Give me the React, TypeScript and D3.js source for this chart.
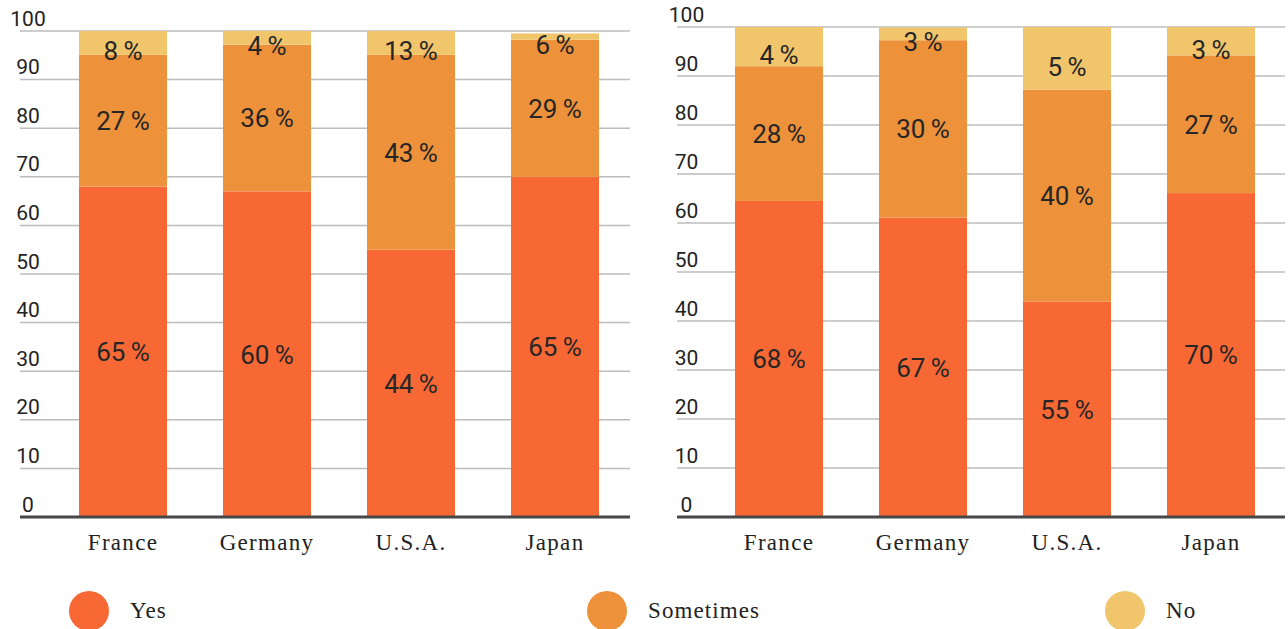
import React from "react";
import * as d3 from "d3";

const categories = ["France", "Germany", "U.S.A."," Japan".trim()];
const seriesNames = ["Yes", "Sometimes", "No"];
const seriesColors = ["#f76835", "#ed923b", "#f1c56b"];

// Left panel: drawn segment values
const leftYes = [68, 67, 55, 70];
const leftSometimes = [27.1, 30.2, 40.1, 28.2];
const leftNo = [4.9, 2.8, 4.9, 1.3];
// Left panel: printed labels
const leftYesLabels = ["65", "60", "44", "65"];
const leftSometimesLabels = ["27", "36", "43", "29"];
const leftNoLabels = ["8", "4", "13", "6"];

// Right panel: drawn segment values
const rightYes = [64.5, 61.1, 44, 66.1];
const rightSometimes = [27.5, 36.2, 43.2, 28.1];
const rightNo = [8, 2.6, 12.8, 5.8];
// Right panel: printed labels
const rightYesLabels = ["68", "67", "55", "70"];
const rightSometimesLabels = ["28", "30", "40", "27"];
const rightNoLabels = ["4", "3", "5", "3"];

const yTicks = [0, 10, 20, 30, 40, 50, 60, 70, 80, 90, 100];

const NUM_FONT = "Roboto, 'Open Sans', sans-serif";
const SERIF_FONT = "'Liberation Serif', 'DejaVu Serif', serif";

type PanelProps = {
  x0: number;
  x1: number;
  bandRange: [number, number];
  yRange: [number, number];
  tickX: number;
  values: number[][];
  labels: string[][];
};

function Panel({ x0, x1, bandRange, yRange, tickX, values, labels }: PanelProps) {
  const x = d3
    .scaleBand<string>()
    .domain(categories)
    .range(bandRange)
    .paddingInner(0.389)
    .paddingOuter(0.1945);
  const y = d3.scaleLinear().domain([0, 100]).range(yRange);

  const rows = categories.map((c, i) => {
    const obj: any = { cat: c };
    seriesNames.forEach((s, k) => (obj[s] = values[k][i]));
    return obj;
  });
  const stacked = d3.stack<any>().keys(seriesNames)(rows);

  return (
    <g>
      {yTicks
        .filter((t) => t > 0)
        .map((t) => (
          <line
            key={"g" + t}
            x1={x0}
            x2={x1}
            y1={y(t)}
            y2={y(t)}
            stroke="#bcbcbc"
            strokeWidth={1.5}
          />
        ))}
      {yTicks.map((t) => (
        <text
          key={"t" + t}
          x={tickX}
          y={y(t) - 5.5}
          textAnchor="middle"
          fontFamily={NUM_FONT}
          fontSize={21}
          fill="#222"
        >
          {t}
        </text>
      ))}
      {stacked.map((layer, k) =>
        layer.map((d, i) => (
          <rect
            key={seriesNames[k] + i}
            x={x(categories[i])}
            width={x.bandwidth()}
            y={y(d[1])}
            height={y(d[0]) - y(d[1])}
            fill={seriesColors[k]}
          />
        ))
      )}
      {stacked.map((layer, k) =>
        layer.map((d, i) => {
          const mid = y((d[0] + d[1]) / 2) + (k === 2 ? 8 : 0);
          return (
            <text
              key={"l" + seriesNames[k] + i}
              x={(x(categories[i]) as number) + x.bandwidth() / 2}
              y={mid}
              dy="0.36em"
              textAnchor="middle"
              fontFamily={NUM_FONT}
              fontSize={26}
              fill="#262626"
            >
              {labels[k][i] + "\u2009%"}
            </text>
          );
        })
      )}
      <line x1={x0} x2={x1} y1={y(0)} y2={y(0)} stroke="#474747" strokeWidth={3} />
      {categories.map((c) => (
        <text
          key={"x" + c}
          x={(x(c) as number) + x.bandwidth() / 2}
          y={550}
          textAnchor="middle"
          fontFamily={SERIF_FONT}
          fontSize={23}
          letterSpacing={1.3}
          fill="#222"
        >
          {c}
        </text>
      ))}
    </g>
  );
}

const legendX = [89, 607, 1125];

export default function App() {
  return (
    <svg
      width={1288}
      height={629}
      style={{ position: "absolute", left: 0, top: 0, background: "#fff" }}
    >
      <Panel
        x0={20}
        x1={630}
        bandRange={[51, 627]}
        yRange={[517, 31]}
        tickX={28}
        values={[leftYes, leftSometimes, leftNo]}
        labels={[leftYesLabels, leftSometimesLabels, leftNoLabels]}
      />
      <Panel
        x0={677}
        x1={1285}
        bandRange={[707, 1283]}
        yRange={[517, 27]}
        tickX={686.5}
        values={[rightYes, rightSometimes, rightNo]}
        labels={[rightYesLabels, rightSometimesLabels, rightNoLabels]}
      />
      {seriesNames.map((s, k) => (
        <g key={"leg" + s}>
          <circle cx={legendX[k]} cy={611} r={20} fill={seriesColors[k]} />
          <text
            x={legendX[k] + 41}
            y={618}
            fontFamily={SERIF_FONT}
            fontSize={23}
            letterSpacing={1.1}
            fill="#222"
          >
            {s}
          </text>
        </g>
      ))}
    </svg>
  );
}
